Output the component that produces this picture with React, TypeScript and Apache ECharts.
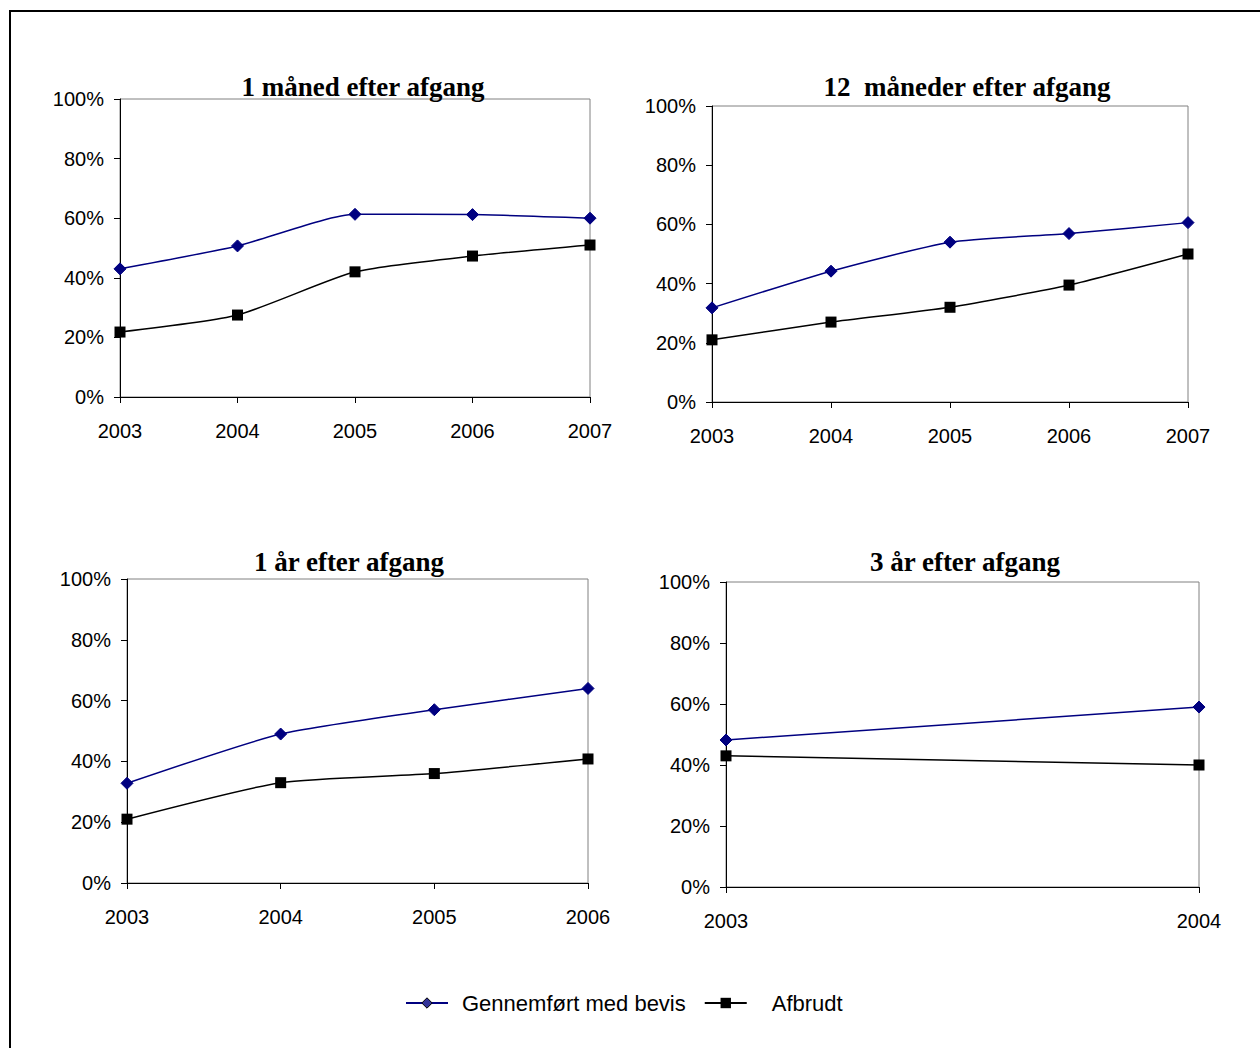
import React, { useEffect, useRef } from "react";
import * as echarts from "echarts";

const SERIES_A = "Gennemført med bevis";
const SERIES_B = "Afbrudt";

const titles = ["1 måned efter afgang", "12  måneder efter afgang", "1 år efter afgang", "3 år efter afgang"];

const years1 = ["2003", "2004", "2005", "2006", "2007"];
const gennem1 = [43, 50.7, 61.3, 61.2, 60];
const afbrudt1 = [21.8, 27.5, 42, 47.3, 51];

const years2 = ["2003", "2004", "2005", "2006", "2007"];
const gennem2 = [31.8, 44.2, 54, 56.9, 60.6];
const afbrudt2 = [21, 27, 32, 39.5, 50];

const years3 = ["2003", "2004", "2005", "2006"];
const gennem3 = [32.8, 49, 57, 64];
const afbrudt3 = [21, 33, 36, 40.8];

const years4 = ["2003", "2004"];
const gennem4 = [48.2, 59];
const afbrudt4 = [43, 40];

const yTicks = { min: 0, max: 100, interval: 20 };

const panels = [
  { years: years1, a: gennem1, b: afbrudt1, grid: { left: 120, top: 99, width: 470, height: 298 }, titleX: 358, titleY: 68 },
  { years: years2, a: gennem2, b: afbrudt2, grid: { left: 712, top: 106, width: 476, height: 296 }, titleX: 962, titleY: 68 },
  { years: years3, a: gennem3, b: afbrudt3, grid: { left: 127, top: 579, width: 461, height: 304 }, titleX: 344, titleY: 543 },
  { years: years4, a: gennem4, b: afbrudt4, grid: { left: 726, top: 582, width: 473, height: 305 }, titleX: 960, titleY: 543 },
];

const SANS = "'Liberation Sans', Arial, sans-serif";
const SERIF = "'Liberation Serif', 'Times New Roman', serif";
const BLUE = "#000080";

export default function App() {
  const ref = useRef<HTMLDivElement>(null);
  useEffect(() => {
    document.body.style.margin = "0";
    const chart = echarts.init(ref.current!, undefined, { renderer: "svg" });
    const option: any = {
      animation: false,
      backgroundColor: "#ffffff",
      title: panels.map((p, i) => ({
        text: titles[i],
        left: p.titleX,
        top: p.titleY,
        textAlign: "center",
        textStyle: { fontFamily: SERIF, fontWeight: "bold", fontSize: 27, color: "#000" },
      })),
      legend: {
        data: [
          { name: SERIES_A, itemStyle: { color: "#333399", borderColor: "#000", borderWidth: 1 } },
          { name: SERIES_B, textStyle: { padding: [0, 0, 0, 20] } },
        ],
        left: 400,
        top: 987,
        itemWidth: 42,
        itemHeight: 13,
        itemGap: 18,
        textStyle: { fontFamily: SANS, fontSize: 22, color: "#000", padding: [0, 0, 0, 9] },
      },
      graphic: [
        {
          type: "rect",
          shape: { x: 10, y: 11, width: 1270, height: 1060 },
          style: { fill: "none", stroke: "#000", lineWidth: 2 },
          silent: true,
        },
      ],
      grid: panels.map((p) => ({
        ...p.grid,
        show: true,
        borderColor: "#808080",
        borderWidth: 1,
        backgroundColor: "transparent",
      })),
      xAxis: panels.map((p, i) => ({
        type: "category",
        gridIndex: i,
        data: p.years,
        boundaryGap: false,
        axisLine: { lineStyle: { color: "#000", width: 1 } },
        axisTick: { show: true, length: 6, lineStyle: { color: "#000" } },
        axisLabel: { fontFamily: SANS, fontSize: 20, color: "#000", margin: 24 },
        splitLine: { show: false },
      })),
      yAxis: panels.map((p, i) => ({
        type: "value",
        gridIndex: i,
        min: yTicks.min,
        max: yTicks.max,
        interval: yTicks.interval,
        axisLine: { show: true, lineStyle: { color: "#000", width: 1 } },
        axisTick: { show: true, length: 6, lineStyle: { color: "#000" } },
        axisLabel: { fontFamily: SANS, fontSize: 20, color: "#000", margin: 16, formatter: "{value}%" },
        splitLine: { show: false },
      })),
      series: panels.flatMap((p, i) => [
        {
          name: SERIES_A,
          type: "line",
          xAxisIndex: i,
          yAxisIndex: i,
          data: p.a,
          smooth: 0.2,
          symbol: "diamond",
          symbolSize: 12,
          lineStyle: { color: BLUE, width: 1.5 },
          itemStyle: { color: BLUE, borderColor: BLUE },
        },
        {
          name: SERIES_B,
          type: "line",
          xAxisIndex: i,
          yAxisIndex: i,
          data: p.b,
          smooth: 0.2,
          symbol: "rect",
          symbolSize: 11,
          lineStyle: { color: "#000", width: 1.5 },
          itemStyle: { color: "#000" },
        },
      ]),
    };
    chart.setOption(option);
    return () => chart.dispose();
  }, []);
  return <div ref={ref} style={{ width: 1260, height: 1048 }} />;
}
